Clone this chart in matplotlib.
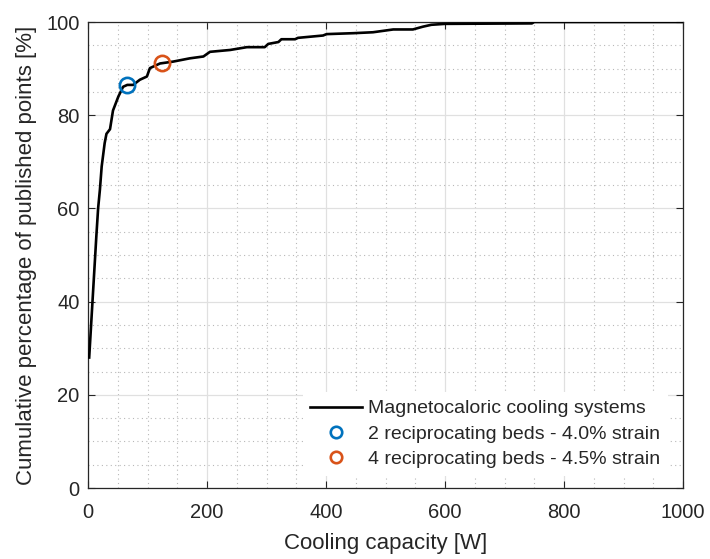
import matplotlib
matplotlib.use("Agg")
import matplotlib.pyplot as plt
from matplotlib.ticker import MultipleLocator

plt.rcParams['font.family'] = ['Liberation Sans', 'DejaVu Sans']

# cumulative curve
cap_w = [2, 8, 14, 17, 20, 23, 28, 31, 37, 42, 51, 59, 66, 76, 87, 99, 104, 121, 143,
         171, 194, 205, 239, 267, 297, 303, 320, 325, 348, 353, 395, 401, 446, 479,
         496, 513, 546, 563, 577, 600, 746, 750, 1000]
cum_pct = [28, 41, 54, 60, 64, 69, 74, 76, 77, 81, 84, 86.1, 86.5, 86.5, 87.6, 88.3, 90.1,
           91.1, 91.5, 92.2, 92.6, 93.6, 94.0, 94.6, 94.6, 95.3, 95.7, 96.3, 96.3, 96.6,
           97.1, 97.4, 97.6, 97.8, 98.1, 98.4, 98.4, 99.0, 99.4, 99.6, 99.7, 100, 100]

beds2_x, beds2_y = [66], [86.5]
beds4_x, beds4_y = [124], [91.1]

labels = ["Magnetocaloric cooling systems",
          "2 reciprocating beds - 4.0% strain",
          "4 reciprocating beds - 4.5% strain"]

fig = plt.figure(figsize=(7.10, 5.59), dpi=100)
ax = fig.add_axes([88/710, 1-488/559, (683-88)/710, (488-22)/559])

axc = '#262626'
ax.plot(cap_w, cum_pct, color='black', lw=1.9, label=labels[0], zorder=3)
ax.plot(beds2_x, beds2_y, 'o', ms=11, mfc='none', mec='#0072BD', mew=1.9, label=labels[1], zorder=4)
ax.plot(beds4_x, beds4_y, 'o', ms=11, mfc='none', mec='#D95319', mew=1.9, label=labels[2], zorder=4)

ax.set_xlim(0, 1000)
ax.set_ylim(0, 100)
ax.xaxis.set_major_locator(MultipleLocator(200))
ax.yaxis.set_major_locator(MultipleLocator(20))
ax.xaxis.set_minor_locator(MultipleLocator(50))
ax.yaxis.set_minor_locator(MultipleLocator(5))

ax.grid(True, which='major', color='#e0e0e0', lw=0.9, ls='-', zorder=0)
ax.grid(True, which='minor', color='#b8b8b8', lw=0.8, ls=(0, (1, 3)), zorder=0)
ax.set_axisbelow(True)

ax.tick_params(which='major', direction='in', length=5, width=0.8, color=axc,
               top=True, right=True, labelsize=14.5, labelcolor=axc)
ax.tick_params(axis='x', which='major', pad=11)
ax.tick_params(axis='y', which='major', pad=6)
ax.tick_params(which='minor', length=0, top=True, right=True)
for s in ax.spines.values():
    s.set_color(axc)
    s.set_linewidth(0.9)

ax.set_xlabel('Cooling capacity [W]', fontsize=16, color=axc, labelpad=8)
ax.set_ylabel('Cumulative percentage of published points [%]', fontsize=16, color=axc, labelpad=7)

leg = ax.legend(loc='lower right', bbox_to_anchor=(0.975, 0.026), borderaxespad=0,
                fontsize=14, frameon=True, fancybox=False,
                markerscale=0.75, handlelength=2.67, handletextpad=0.3,
                labelspacing=0.4)
leg.get_frame().set_facecolor('white')
leg.get_frame().set_edgecolor('none')
leg.get_frame().set_alpha(1)
for t in leg.get_texts():
    t.set_color(axc)

fig.savefig('out.png', dpi=100)
